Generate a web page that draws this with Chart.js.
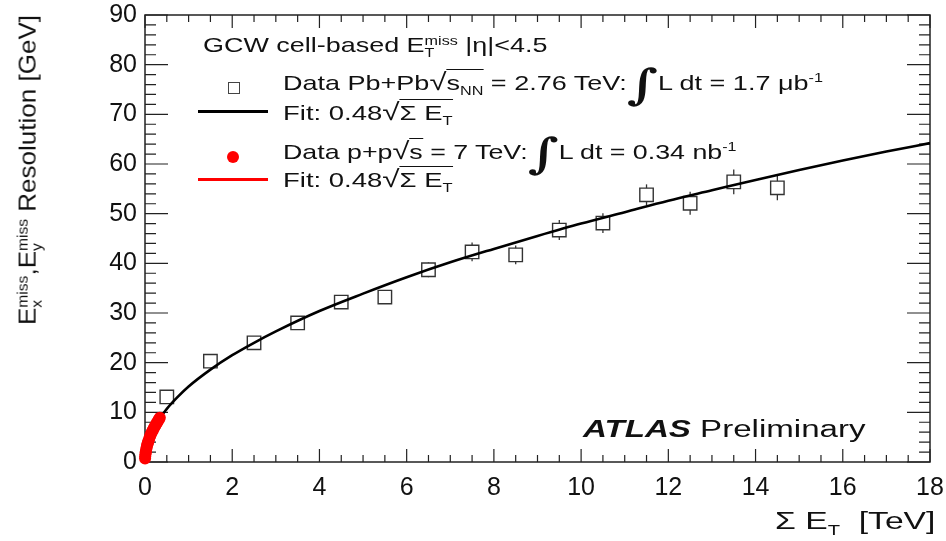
<!DOCTYPE html>
<html>
<head>
<meta charset="utf-8">
<script src="https://cdn.jsdelivr.net/npm/chart.js@4.4.1/dist/chart.umd.min.js"></script>
<style>
html, body { margin: 0; padding: 0; background: #fff; }
#wrap { position: relative; width: 946px; height: 541px; overflow: hidden; }
canvas { position: absolute; left: 0; top: 0; }
.t { position: absolute; white-space: nowrap; font-family: "Liberation Sans", Arial, sans-serif; color: #111; line-height: 1; transform-origin: 0 0; }
.ss { display: inline-block; font-size: 0.6em; line-height: 1; vertical-align: -0.42em; }
.ss span { display: block; }
.ov { border-top: 1.6px solid #111; padding-top: 1px; }
.rt { font-size: 1.15em; line-height: 0; }
.int { font-family: "DejaVu Serif", serif; font-size: 2.0em; font-weight: bold; line-height: 0; vertical-align: -0.22em; }
sub, sup { font-size: 0.6em; line-height: 0; }
.mk { position: absolute; }
</style>
</head>
<body>
<div id="wrap">
  <canvas id="c" width="946" height="541"></canvas>

  <div class="t" style="left:203px;top:34px;font-size:21px" data-w="345">GCW cell-based E<span class="ss"><span>miss</span><span>T</span></span> |η|&lt;4.5</div>

  <div class="mk" style="left:228px;top:82px;width:10px;height:10px;border:1.4px solid #444"></div>
  <div class="t" style="left:283px;top:72px;font-size:21px" data-w="540">Data Pb+Pb<span class="rt">√</span><span class="ov">s<sub>NN</sub></span> = 2.76 TeV:<span class="int">∫</span>L dt = 1.7 μb<sup>-1</sup></div>

  <div class="mk" style="left:198px;top:110px;width:70px;height:2.6px;background:#000"></div>
  <div class="t" style="left:283px;top:102px;font-size:21px" data-w="170">Fit: 0.48<span class="rt">√</span><span class="ov">Σ E<sub>T</sub></span></div>

  <div class="mk" style="left:227px;top:151px;width:12px;height:12px;border-radius:50%;background:#ff0000"></div>
  <div class="t" style="left:283px;top:141px;font-size:21px" data-w="454">Data p+p<span class="rt">√</span><span class="ov">s</span> = 7 TeV:<span class="int">∫</span>L dt = 0.34 nb<sup>-1</sup></div>

  <div class="mk" style="left:198px;top:178px;width:70px;height:2.6px;background:#ff0000"></div>
  <div class="t" style="left:283px;top:169px;font-size:21px" data-w="170">Fit: 0.48<span class="rt">√</span><span class="ov">Σ E<sub>T</sub></span></div>

  <div class="t" style="left:583px;top:418px;font-size:23px" data-w="282"><b><i>ATLAS</i></b> Preliminary</div>

  <div class="t" style="left:775px;top:510px;font-size:23px" data-w="161">Σ E<sub>T</sub>&nbsp;&nbsp;[TeV]</div>

  <div class="t" id="ytitle" style="left:30px;top:170px;font-size:24px;transform-origin:50% 50%" data-w="310" data-pre="translate(-50%,-50%) rotate(-90deg)">E<span class="ss"><span>miss</span><span>x</span></span>,E<span class="ss"><span>miss</span><span>y</span></span> Resolution [GeV]</div>
</div>

<script>
// tick labels
const xTickVals = [0, 2, 4, 6, 8, 10, 12, 14, 16, 18];
const yTickVals = [0, 10, 20, 30, 40, 50, 60, 70, 80, 90];

// Pb+Pb data (sum ET in TeV, resolution in GeV) and error bars
const xPbPb = [0.5, 1.5, 2.5, 3.5, 4.5, 5.5, 6.5, 7.5, 8.5, 9.5, 10.5, 11.5, 12.5, 13.5, 14.5];
const yPbPb = [13.1, 20.3, 24.0, 28.0, 32.2, 33.2, 38.7, 42.3, 41.7, 46.7, 48.1, 53.8, 52.1, 56.4, 55.2];
const errPbPb = [0.9, 1.0, 1.1, 1.2, 1.3, 1.4, 1.5, 1.9, 1.9, 2.0, 2.0, 2.1, 2.3, 2.5, 2.5];

// p+p data
const xPP = [0.002, 0.005, 0.01, 0.015, 0.02, 0.03, 0.04, 0.05, 0.06, 0.07, 0.08, 0.1, 0.12, 0.14, 0.16, 0.18, 0.2, 0.22, 0.24, 0.26, 0.28, 0.3, 0.32, 0.34];
const yPP = [0.7, 1.1, 1.5, 1.9, 2.1, 2.6, 3.0, 3.4, 3.7, 4.0, 4.3, 4.8, 5.3, 5.7, 6.1, 6.4, 6.8, 7.1, 7.4, 7.7, 8.0, 8.3, 8.6, 8.9];

// fit curves
const xFit = [0.3, 0.5, 0.75, 1, 1.5, 2, 2.5, 3, 4, 5, 6, 7, 8, 9, 10, 11, 12, 13, 14, 15, 16, 17, 18];
const yFit = [8.3, 10.7, 13.1, 15.2, 18.6, 21.5, 24.0, 26.3, 30.4, 33.9, 37.2, 40.2, 42.9, 45.5, 48.0, 50.3, 52.6, 54.7, 56.8, 58.8, 60.7, 62.5, 64.2];
const xFitPP = [0, 0.01, 0.05, 0.1, 0.2, 0.3, 0.35];
const yFitPP = [0, 1.5, 3.4, 4.8, 6.8, 8.3, 9.0];

const pts = (xs, ys) => xs.map((x, i) => ({ x: x, y: ys[i] }));

// stretch overlay texts to the widths seen in the picture
document.querySelectorAll('[data-w]').forEach(el => {
  const k = el.dataset.w / el.offsetWidth;
  el.style.transform = (el.dataset.pre || '') + ' scaleX(' + k.toFixed(3) + ')';
});

const frame = {
  id: 'frame',
  beforeDatasetsDraw(chart) {
    const { ctx, chartArea: a, scales: { x, y } } = chart;
    ctx.save();
    // error bars
    ctx.strokeStyle = '#333';
    ctx.lineWidth = 1.3;
    xPbPb.forEach((xv, i) => {
      const px = x.getPixelForValue(xv);
      ctx.beginPath();
      ctx.moveTo(px, y.getPixelForValue(yPbPb[i] - errPbPb[i]));
      ctx.lineTo(px, y.getPixelForValue(yPbPb[i] + errPbPb[i]));
      ctx.stroke();
    });
    // ticks, pointing inwards on all four sides
    ctx.strokeStyle = '#222';
    ctx.lineWidth = 1.2;
    ctx.beginPath();
    for (let v = 0; v <= 18.001; v += 0.5) {
      const px = x.getPixelForValue(v);
      const len = Math.abs(v / 2 - Math.round(v / 2)) < 1e-6 ? 13 : 7;
      ctx.moveTo(px, a.bottom); ctx.lineTo(px, a.bottom - len);
      ctx.moveTo(px, a.top); ctx.lineTo(px, a.top + len);
    }
    for (let v = 0; v <= 90.001; v += 2) {
      const py = y.getPixelForValue(v);
      const len = v % 10 === 0 ? 23 : 11;
      ctx.moveTo(a.left, py); ctx.lineTo(a.left + len, py);
      ctx.moveTo(a.right, py); ctx.lineTo(a.right - len, py);
    }
    ctx.stroke();
    ctx.lineWidth = 1.5;
    ctx.strokeRect(a.left, a.top, a.right - a.left, a.bottom - a.top);
    ctx.restore();
  }
};

new Chart(document.getElementById('c'), {
  type: 'scatter',
  data: {
    datasets: [
      {
        label: 'Data p+p',
        data: pts(xPP, yPP),
        pointStyle: 'circle',
        pointRadius: 6,
        backgroundColor: '#ff0000',
        borderColor: '#ff0000',
        borderWidth: 0,
        clip: false,
        order: 0
      },
      {
        label: 'Fit Pb+Pb',
        data: pts(xFit, yFit),
        showLine: true,
        cubicInterpolationMode: 'monotone',
        pointRadius: 0,
        borderColor: '#000',
        borderWidth: 2.6,
        order: 1
      },
      {
        label: 'Data Pb+Pb',
        data: pts(xPbPb, yPbPb),
        pointStyle: 'rect',
        pointRadius: 9.5,
        backgroundColor: '#fff',
        borderColor: '#333',
        borderWidth: 1.4,
        order: 2
      },
      {
        label: 'Fit p+p',
        data: pts(xFitPP, yFitPP),
        showLine: true,
        cubicInterpolationMode: 'monotone',
        pointRadius: 0,
        borderColor: '#ff0000',
        borderWidth: 2.6,
        order: 3
      }
    ]
  },
  options: {
    responsive: false,
    animation: false,
    events: [],
    layout: { padding: { top: 15, right: 16, left: 0, bottom: 0 } },
    plugins: { legend: { display: false }, tooltip: { enabled: false } },
    scales: {
      x: {
        type: 'linear', min: 0, max: 18,
        grid: { display: false, drawTicks: false },
        border: { display: false },
        afterBuildTicks: s => { s.ticks = xTickVals.map(v => ({ value: v })); },
        afterFit: s => { s.height = 79; s.paddingLeft = 0; s.paddingRight = 0; },
        ticks: { color: '#111', padding: 11, maxRotation: 0, autoSkip: false, font: { family: 'Liberation Sans', size: 25 } }
      },
      y: {
        type: 'linear', min: 0, max: 90,
        grid: { display: false, drawTicks: false },
        border: { display: false },
        afterBuildTicks: s => { s.ticks = yTickVals.map(v => ({ value: v })); },
        afterFit: s => { s.width = 145; s.paddingTop = 0; s.paddingBottom = 0; },
        ticks: { color: '#111', padding: 8, autoSkip: false, font: { family: 'Liberation Sans', size: 25 } }
      }
    }
  },
  plugins: [frame]
});
</script>
</body>
</html>
